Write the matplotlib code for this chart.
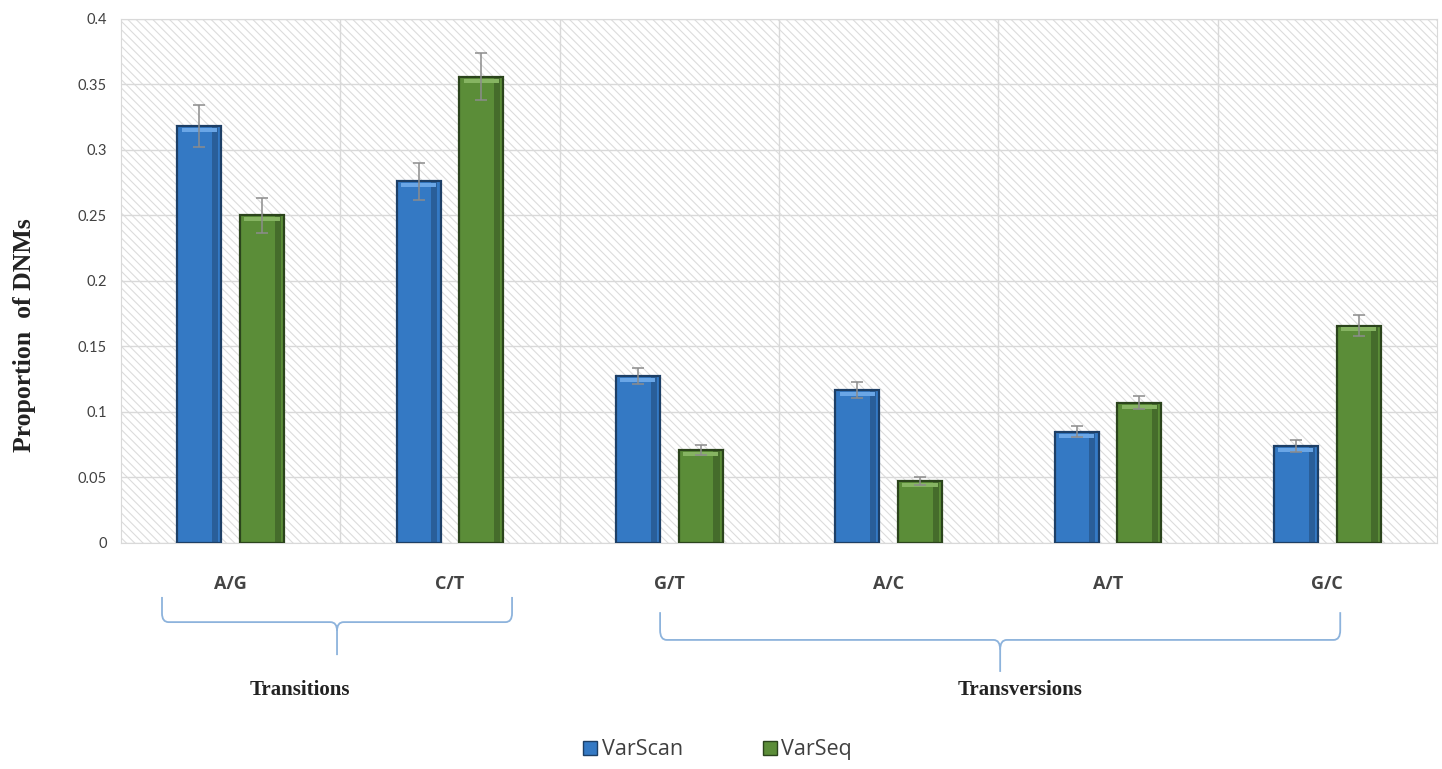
import numpy as np
import matplotlib.pyplot as plt
import matplotlib.patches as patches
from matplotlib.path import Path
from matplotlib.transforms import blended_transform_factory

categories = ["A/G", "C/T", "G/T", "A/C", "A/T", "G/C"]
varscan = [0.318, 0.276, 0.1275, 0.117, 0.085, 0.074]
varscan_err = [0.016, 0.014, 0.006, 0.006, 0.004, 0.0045]
varseq = [0.250, 0.356, 0.071, 0.047, 0.107, 0.166]
varseq_err = [0.013, 0.018, 0.004, 0.003, 0.005, 0.008]
yticks = [0, 0.05, 0.1, 0.15, 0.2, 0.25, 0.3, 0.35, 0.4]
groups = [("Transitions", 0, 1), ("Transversions", 2, 5)]

plt.rcParams['hatch.color'] = '#dcdcdc'
plt.rcParams['hatch.linewidth'] = 0.8

fig = plt.figure(figsize=(14.42, 7.69), dpi=100)
ax = fig.add_axes([0.0839, 0.2939, 0.9126, 0.6814])

# hatched plot area background
bg = patches.Rectangle((0, 0), 1, 1, transform=ax.transAxes, facecolor='white',
                       edgecolor='#dcdcdc', hatch='\\\\\\\\', linewidth=0, zorder=0)
ax.add_patch(bg)

x = np.arange(len(categories))
w = 0.2
off = 0.143
blue, blue_dark = '#3479c4', '#1d3f66'
green, green_dark = '#5b8d38', '#2b441c'

for xs, vals, errs, fc, ec, hl in [(x - off, varscan, varscan_err, blue, blue_dark, '#6aa6e6'),
                                   (x + off, varseq, varseq_err, green, green_dark, '#86b462')]:
    ax.bar(xs, vals, w, color=fc, edgecolor=ec, linewidth=1.6, zorder=3)
    # darker right side for bevel look
    ax.bar(xs + w * 0.36, vals, w * 0.14, color=ec, alpha=0.45, linewidth=0, zorder=3.5)
    # highlight at top
    ax.bar(xs, [0.003] * len(vals), w * 0.8, bottom=np.array(vals) - 0.0045,
           color=hl, linewidth=0, zorder=3.6)
    ax.errorbar(xs, vals, yerr=errs, fmt='none', ecolor='#8c8c8c', elinewidth=1.1,
                capsize=4, capthick=1.1, zorder=4)

ax.set_xlim(-0.5, len(categories) - 0.5)
ax.set_ylim(0, 0.4)
ax.set_yticks(yticks)
ax.set_yticklabels(['0', '0.05', '0.1', '0.15', '0.2', '0.25', '0.3', '0.35', '0.4'],
                   fontsize=10.5, color='#404040', family='Lato')
ax.set_xticks(x)
ax.set_xticklabels(categories, fontsize=13, fontweight='bold', color='#444444', family='Open Sans')
ax.tick_params(axis='both', length=0)
ax.tick_params(axis='x', pad=23)
ax.tick_params(axis='y', pad=10)

for yv in yticks:
    ax.axhline(yv, color='#d9d9d9', linewidth=1, zorder=1)
for xv in x[:-1] + 0.5:
    ax.axvline(xv, color='#d9d9d9', linewidth=1, zorder=1)
for s in ax.spines.values():
    s.set_color('#d9d9d9')

ax.set_ylabel('Proportion  of DNMs', family='Liberation Serif', fontweight='bold',
              fontsize=18.5, color='#222222')
ax.yaxis.set_label_coords(-0.0646, 0.397)


def brace(ax, x0, x1, ytop, ybar, ytip, color='#8db3dc'):
    tr = blended_transform_factory(ax.transData, ax.transAxes)
    xm = (x0 + x1) / 2
    dx = 0.03
    dy = (ytop - ybar) * 0.35
    verts = [(x0, ytop), (x0, ybar + dy), (x0, ybar), (x0 + dx, ybar),
             (xm - dx, ybar), (xm, ybar), (xm, ybar - dy), (xm, ytip)]
    codes = [Path.MOVETO, Path.LINETO, Path.CURVE3, Path.CURVE3,
             Path.LINETO, Path.CURVE3, Path.CURVE3, Path.LINETO]
    verts2 = [(x1, ytop), (x1, ybar + dy), (x1, ybar), (x1 - dx, ybar),
              (xm + dx, ybar), (xm, ybar), (xm, ybar - dy)]
    codes2 = [Path.MOVETO, Path.LINETO, Path.CURVE3, Path.CURVE3,
              Path.LINETO, Path.CURVE3, Path.CURVE3]
    for v, c in [(verts, codes), (verts2, codes2)]:
        p = patches.PathPatch(Path(v, c), facecolor='none', edgecolor=color,
                              linewidth=1.3, transform=tr, clip_on=False)
        ax.add_patch(p)


brace(ax, groups[0][1] - 0.313, groups[0][2] + 0.283, -0.103, -0.151, -0.214)
brace(ax, groups[1][1] - 0.042, groups[1][2] + 0.059, -0.132, -0.185, -0.246)

tr = blended_transform_factory(ax.transData, ax.transAxes)
ax.text(0.316, -0.28, groups[0][0], transform=tr, ha='center', va='center',
        family='Liberation Serif', fontweight='bold', fontsize=15, color='#222222')
ax.text(3.6, -0.28, groups[1][0], transform=tr, ha='center', va='center',
        family='Liberation Serif', fontweight='bold', fontsize=15, color='#222222')

handles = [patches.Patch(facecolor=blue, edgecolor=blue_dark, label='VarScan'),
           patches.Patch(facecolor=green, edgecolor=green_dark, label='VarSeq')]
leg = fig.legend(handles=handles, loc='center', bbox_to_anchor=(0.4976, 0.025), ncol=2,
                 frameon=False, handlelength=0.65, handleheight=0.65, handletextpad=0.2,
                 columnspacing=3.7, prop={'family': 'Open Sans', 'size': 15.5})
for t in leg.get_texts():
    t.set_color('#404040')

fig.savefig('out.png', dpi=100)
